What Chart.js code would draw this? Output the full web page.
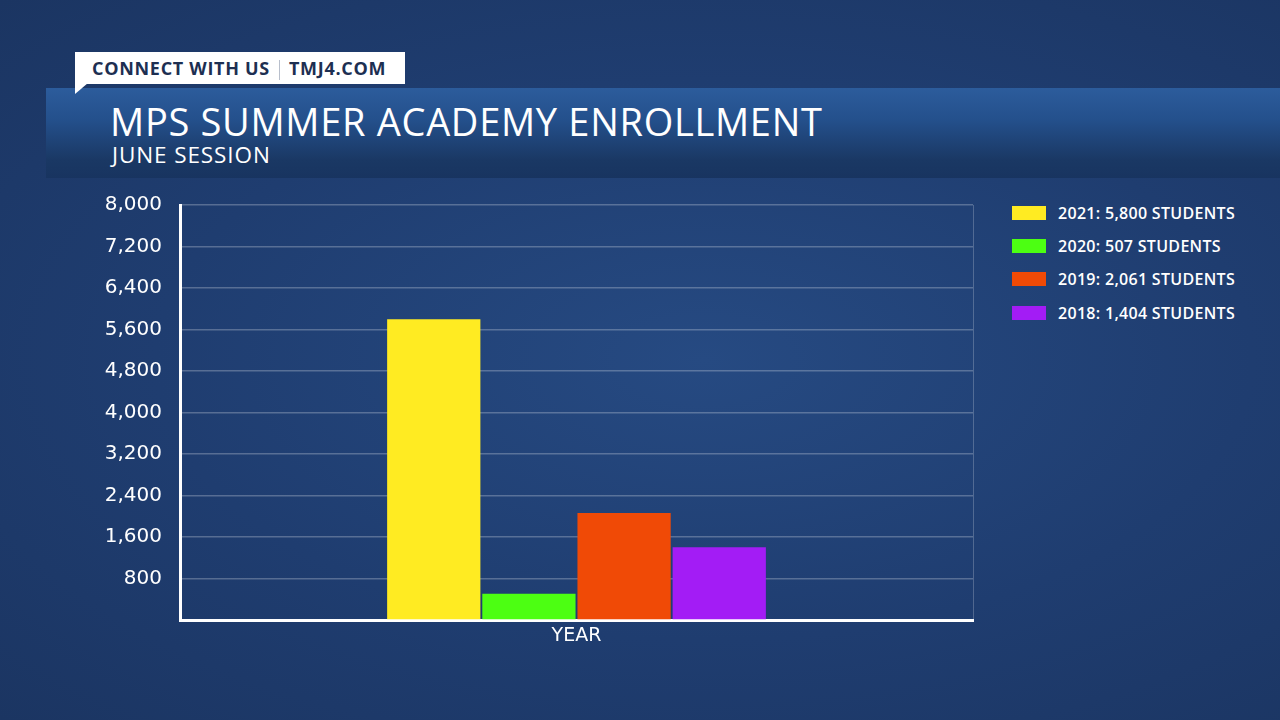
<!DOCTYPE html>
<html>
<head>
<meta charset="utf-8">
<script src="https://cdn.jsdelivr.net/npm/chart.js@4"></script>
<style>
  html, body { margin: 0; padding: 0; }
  body {
    width: 1280px; height: 720px; overflow: hidden; position: relative;
    background: radial-gradient(ellipse at 55% 50%, #264a82 0%, #1f3d70 55%, #1b3562 100%);
    font-family: "Open Sans", "Lato", sans-serif; color: #fff;
  }
  #tag {
    position: absolute; left: 75px; top: 52px; width: 330px; height: 32px;
    background: #fff; color: #1d2f52; font-weight: 700; font-size: 18px;
    line-height: 32px; box-sizing: border-box; padding-left: 17px; letter-spacing: 0.7px;
    z-index: 2; white-space: nowrap;
  }
  #tag .sep { display: inline-block; width: 1px; height: 20px; background: #b8bfcc; vertical-align: middle; margin: 0 9px 0 9px; }
  #tail {
    position: absolute; left: 75px; top: 83px; width: 0; height: 0;
    border-left: 13px solid #fff; border-bottom: 11px solid transparent; z-index: 2;
  }
  #banner {
    position: absolute; left: 46px; top: 88px; width: 1234px; height: 90px;
    background: linear-gradient(to bottom, #2c5c9c 0%, #24508c 35%, #1a3864 80%, #183460 100%);
  }
  #title { position: absolute; left: 110px; top: 95px; font-size: 38px; font-weight: 400; letter-spacing: 0.7px; white-space: nowrap; }
  #subtitle { position: absolute; left: 112px; top: 139px; font-size: 22.5px; font-weight: 400; letter-spacing: 0.9px; white-space: nowrap; }
  #wrap { position: absolute; left: 0; top: 175px; width: 990px; height: 485px; }
  #legend { position: absolute; left: 1012px; top: 196px; }
  .item { height: 33.4px; display: flex; align-items: center; font-size: 16px; font-weight: 600; letter-spacing: 0.3px; white-space: nowrap; }
  .sw { width: 34px; height: 14px; margin-right: 12px; }
</style>
</head>
<body>
<div id="tag">CONNECT WITH US<span class="sep"></span>TMJ4.COM</div>
<div id="tail"></div>
<div id="banner"></div>
<div id="title">MPS SUMMER ACADEMY ENROLLMENT</div>
<div id="subtitle">JUNE SESSION</div>
<div id="wrap"><canvas id="chart" width="990" height="485"></canvas></div>
<div id="legend"></div>

<script>
// ----- data -----
const categories = ['YEAR'];
const years = ['2021', '2020', '2019', '2018'];
const students = [5800, 507, 2061, 1404];
const colors = ['#ffeb22', '#4cff12', '#f04a06', '#a31cf5'];
const yTicks = [0, 800, 1600, 2400, 3200, 4000, 4800, 5600, 6400, 7200, 8000];

// legend built from the same arrays
const legend = document.getElementById('legend');
years.forEach((yr, i) => {
    const row = document.createElement('div');
    row.className = 'item';
    row.innerHTML = '<div class="sw" style="background:' + colors[i] + '"></div>' +
        yr + ': ' + students[i].toLocaleString('en-US') + ' STUDENTS';
    legend.appendChild(row);
});

const ctx = document.getElementById('chart').getContext('2d');

const chart = new Chart(ctx, {
    type: 'bar',
    data: {
        labels: categories,
        datasets: years.map((yr, i) => ({
            label: yr,
            data: [students[i]],
            backgroundColor: colors[i],
            borderWidth: 0,
            barPercentage: 0.98,
            categoryPercentage: 0.48,
        })),
    },
    options: {
        responsive: false,
        animation: false,
        layout: { padding: { top: 0, right: 17, left: 0, bottom: 0 } },
        plugins: {
            legend: { display: false },
            tooltip: { enabled: false },
        },
        scales: {
            x: {
                grid: {
                    display: true,
                    offset: true,
                    color: 'rgba(255,255,255,0.22)',
                    drawTicks: false,
                },
                border: { color: '#ffffff', width: 3 },
                ticks: {
                    color: '#ffffff',
                    padding: 5,
                    font: { family: 'DejaVu Sans', size: 19 },
                },
                afterFit: (s) => { s.height = 40; },
            },
            y: {
                min: 0,
                max: 8000,
                afterBuildTicks: (s) => { s.ticks = yTicks.map(v => ({ value: v })); },
                grid: {
                    color: (c) => c.tick.value === 0 ? 'rgba(0,0,0,0)' : 'rgba(255,255,255,0.25)',
                    lineWidth: 1.5,
                    drawTicks: false,
                },
                border: { color: '#ffffff', width: 3 },
                ticks: {
                    color: '#ffffff',
                    padding: 18,
                    font: { family: 'DejaVu Sans', size: 20 },
                    callback: (v) => v === 0 ? '' : v.toLocaleString('en-US'),
                },
                afterFit: (s) => { s.width = 180; },
            },
        },
    },
});
</script>
</body>
</html>
